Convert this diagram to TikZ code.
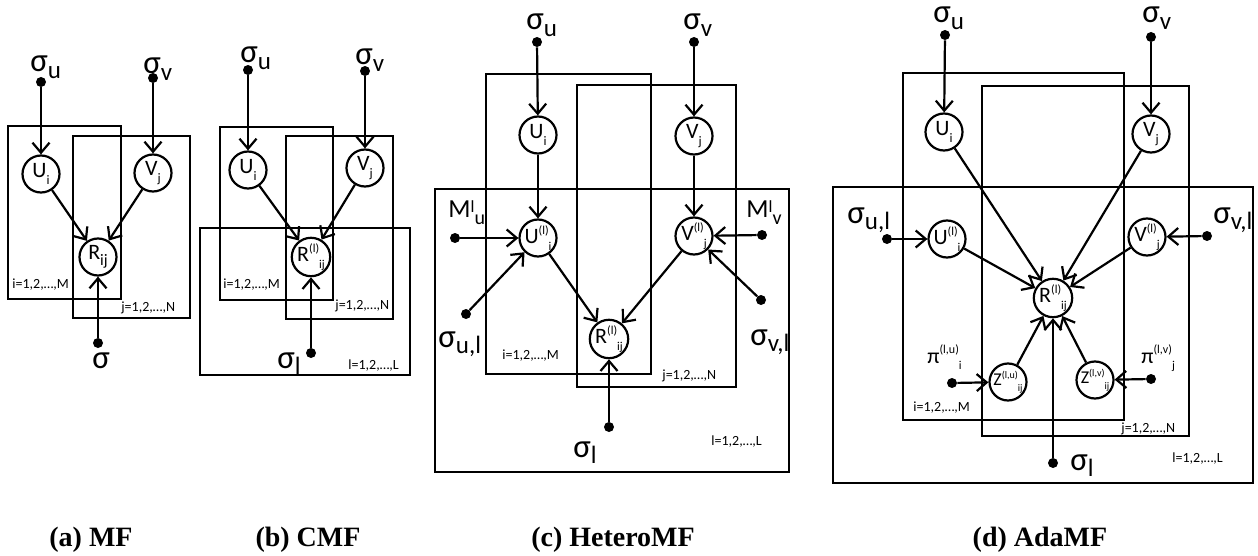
\documentclass[tikz,border=0pt]{standalone}
\usepackage{fontspec}
\setmainfont{Carlito}
\newfontfamily\capfont{Liberation Serif}
\usetikzlibrary{arrows.meta,positioning}

% raised and lowered scripts, set one after the other
\newcommand{\up}[2][6.5]{\raisebox{0.42em}{\fontsize{#1}{#1}\selectfont #2}}
\newcommand{\dn}[2][6.5]{\raisebox{-0.3em}{\fontsize{#1}{#1}\selectfont #2}}
\newcommand{\sig}[1]{σ\raisebox{-0.2em}{\fontsize{12.5}{12.5}\selectfont #1}}
\newcommand{\mlab}[1]{M\raisebox{2.5pt}{\fontsize{8.5}{8.5}\selectfont l}\dn[10]{#1}}

\begin{document}
\begin{tikzpicture}[x=0.5pt, y=-0.5pt,
    >={Straight Barb[length=5pt,width=8.5pt]},
    var/.style={circle, draw, fill=white, line width=1.1pt, minimum size=18.5pt,
        inner sep=0pt, font=\fontsize{11}{11}\selectfont},
    small var/.style={var, font=\fontsize{9}{9}\selectfont},
    dot/.style={circle, fill, inner sep=0pt, minimum size=5pt},
    hyper/.style={anchor=base west, inner sep=0pt, font=\fontsize{16.5}{16.5}\selectfont},
    plate/.style={line width=1pt},
    platelab/.style={anchor=base west, inner sep=0pt, font=\fontsize{7}{7}\selectfont},
    link/.style={->, line width=1.1pt},
    subcap/.style={anchor=base, inner sep=0pt, font=\capfont\bfseries\fontsize{14}{14}\selectfont}]
    \useasboundingbox (0,0) rectangle (1258,556);

    % (a) MF
    \draw[plate] (8,126) rectangle (121,299);
    \draw[plate] (73,136) rectangle (190,318);
    \node[var] (a-U) at (41,174) {U\dn{i}};
    \node[var] (a-V) at (153,173) {V\dn{j}};
    \node[var] (a-R) at (98,257) {R\dn[8]{ij}};
    \node[dot] (a-su) at (41,82) {};
    \node[dot] (a-sv) at (153,78) {};
    \node[dot] (a-s) at (98,343) {};
    \node[hyper] (a-su-lab) at (30,72) {\sig{u}};
    \node[hyper] (a-sv-lab) at (143,74) {\sig{v}};
    \node[hyper] (a-s-lab) at (92,368) {σ};
    \node[platelab] (a-i) at (12,288) {i=1,2,…,M};
    \node[platelab] (a-j) at (121,311) {j=1,2,…,N};
    \draw[link] (a-su) -- (a-U);
    \draw[link] (a-sv) -- (a-V);
    \draw[link] (a-U) -- (a-R);
    \draw[link] (a-V) -- (a-R);
    \draw[link] (a-s) -- (a-R);

    % (b) CMF
    \draw[plate] (220,127) rectangle (333,300);
    \draw[plate] (286,136) rectangle (393,319);
    \draw[plate] (200,228) rectangle (410,375);
    \node[var] (b-U) at (248,170) {U\dn{i}};
    \node[var] (b-V) at (365,168) {V\dn{j}};
    \node[var] (b-R) at (311,257) {R\up[6]{(l)}\dn[6]{ij}};
    \node[dot] (b-su) at (248,70) {};
    \node[dot] (b-sv) at (365,71) {};
    \node[dot] (b-sl) at (311,353) {};
    \node[hyper] (b-su-lab) at (240,63) {\sig{u}};
    \node[hyper] (b-sv-lab) at (355,65) {\sig{v}};
    \node[hyper] (b-sl-lab) at (277,368) {\sig{l}};
    \node[platelab] (b-i) at (223,288) {i=1,2,…,M};
    \node[platelab] (b-j) at (335,309) {j=1,2,…,N};
    \node[platelab] (b-l) at (348,369) {l=1,2,…,L};
    \draw[link] (b-su) -- (b-U);
    \draw[link] (b-sv) -- (b-V);
    \draw[link] (b-U) -- (b-R);
    \draw[link] (b-V) -- (b-R);
    \draw[link] (b-sl) -- (b-R);

    % (c) HeteroMF
    \draw[plate] (486,74) rectangle (651,374);
    \draw[plate] (577,85) rectangle (736,387);
    \draw[plate] (435,189) rectangle (789,472);
    \node[var] (c-U) at (538,135) {U\dn{i}};
    \node[var] (c-V) at (694,136) {V\dn{j}};
    \node[var] (c-Ul) at (538,238) {U\up[6]{(l)}\dn[6]{i}};
    \node[var] (c-Vl) at (694,236) {V\up[6]{(l)}\dn[6]{j}};
    \node[var] (c-R) at (609,339) {R\up[6]{(l)}\dn[6]{ij}};
    \node[dot] (c-su) at (537,42) {};
    \node[dot] (c-sv) at (694,42) {};
    \node[dot] (c-mu) at (455,238) {};
    \node[dot] (c-mv) at (762,235) {};
    \node[dot] (c-sul) at (466,314) {};
    \node[dot] (c-svl) at (761,300) {};
    \node[dot] (c-sl) at (609,427) {};
    \node[hyper] (c-su-lab) at (526,30) {\sig{u}};
    \node[hyper] (c-sv-lab) at (683,30) {\sig{v}};
    \node[hyper, font=\fontsize{13}{13}\selectfont] (c-mu-lab) at (448,217) {\mlab{u}};
    \node[hyper, font=\fontsize{13}{13}\selectfont] (c-mv-lab) at (746,217) {\mlab{v}};
    \node[hyper] (c-sul-lab) at (438,347) {\sig{u,l}};
    \node[hyper] (c-svl-lab) at (750,345) {\sig{v,l}};
    \node[hyper] (c-sl-lab) at (573,457) {\sig{l}};
    \node[platelab] (c-i) at (502,359) {i=1,2,…,M};
    \node[platelab] (c-j) at (662,379) {j=1,2,…,N};
    \node[platelab] (c-l) at (711,445) {l=1,2,…,L};
    \draw[link] (c-su) -- (c-U);
    \draw[link] (c-sv) -- (c-V);
    \draw[link] (c-U) -- (c-Ul);
    \draw[link] (c-V) -- (c-Vl);
    \draw[link] (c-mu) -- (c-Ul);
    \draw[link] (c-mv) -- (c-Vl);
    \draw[link] (c-sul) -- (c-Ul);
    \draw[link] (c-svl) -- (c-Vl);
    \draw[link] (c-Ul) -- (c-R);
    \draw[link] (c-Vl) -- (c-R);
    \draw[link] (c-sl) -- (c-R);

    % (d) AdaMF
    \draw[plate] (903,73) rectangle (1124,420);
    \draw[plate] (982,86) rectangle (1189,436);
    \draw[plate] (833,187) rectangle (1253,483);
    \node[var] (d-U) at (944,132) {U\dn{i}};
    \node[var] (d-V) at (1151,134) {V\dn{j}};
    \node[var] (d-Ul) at (947,239) {U\up[6]{(l)}\dn[6]{i}};
    \node[var] (d-Vl) at (1147,237) {V\up[6]{(l)}\dn[6]{j}};
    \node[var] (d-R) at (1053,298) {R\up[6]{(l)}\dn[6]{ij}};
    \node[small var] (d-Zu) at (1008,382) {Z\up[5]{(l,u)}\dn[5]{ij}};
    \node[small var] (d-Zv) at (1095,380) {Z\up[5]{(l,v)}\dn[5]{ij}};
    \node[dot] (d-su) at (945,35) {};
    \node[dot] (d-sv) at (1151,37) {};
    \node[dot] (d-sul) at (887,239) {};
    \node[dot] (d-svl) at (1207,236) {};
    \node[dot] (d-pu) at (952,383) {};
    \node[dot] (d-pv) at (1151,379) {};
    \node[dot] (d-sl) at (1053,463) {};
    \node[hyper] (d-su-lab) at (933,23) {\sig{u}};
    \node[hyper] (d-sv-lab) at (1142,23) {\sig{v}};
    \node[hyper] (d-sul-lab) at (847,223) {\sig{u,l}};
    \node[hyper] (d-svl-lab) at (1213,223) {\sig{v,l}};
    \node[hyper] (d-sl-lab) at (1070,470) {\sig{l}};
    \node[hyper, font=\fontsize{11}{11}\selectfont] (d-pu-lab) at (927,363) {π\up[6]{(l,u)}\dn[6]{i}};
    \node[hyper, font=\fontsize{11}{11}\selectfont] (d-pv-lab) at (1141,363) {π\up[6]{(l,v)}\dn[6]{j}};
    \node[platelab] (d-i) at (913,411) {i=1,2,…,M};
    \node[platelab] (d-j) at (1121,432) {j=1,2,…,N};
    \node[platelab] (d-l) at (1172,462) {l=1,2,…,L};
    \draw[link] (d-su) -- (d-U);
    \draw[link] (d-sv) -- (d-V);
    \draw[link] (d-U) -- (d-R);
    \draw[link] (d-V) -- (d-R);
    \draw[link] (d-Ul) -- (d-R);
    \draw[link] (d-Vl) -- (d-R);
    \draw[link] (d-Zu) -- (d-R);
    \draw[link] (d-Zv) -- (d-R);
    \draw[link] (d-sl) -- (d-R);
    \draw[link] (d-sul) -- (d-Ul);
    \draw[link] (d-svl) -- (d-Vl);
    \draw[link] (d-pu) -- (d-Zu);
    \draw[link] (d-pv) -- (d-Zv);

    % captions
    \node[subcap] (cap-a) at (91,546) {(a) MF};
    \node[subcap] (cap-b) at (308,546) {(b) CMF};
    \node[subcap] (cap-c) at (613,546) {(c) HeteroMF};
    \node[subcap] (cap-d) at (1040,546) {(d) AdaMF};
\end{tikzpicture}
\end{document}
